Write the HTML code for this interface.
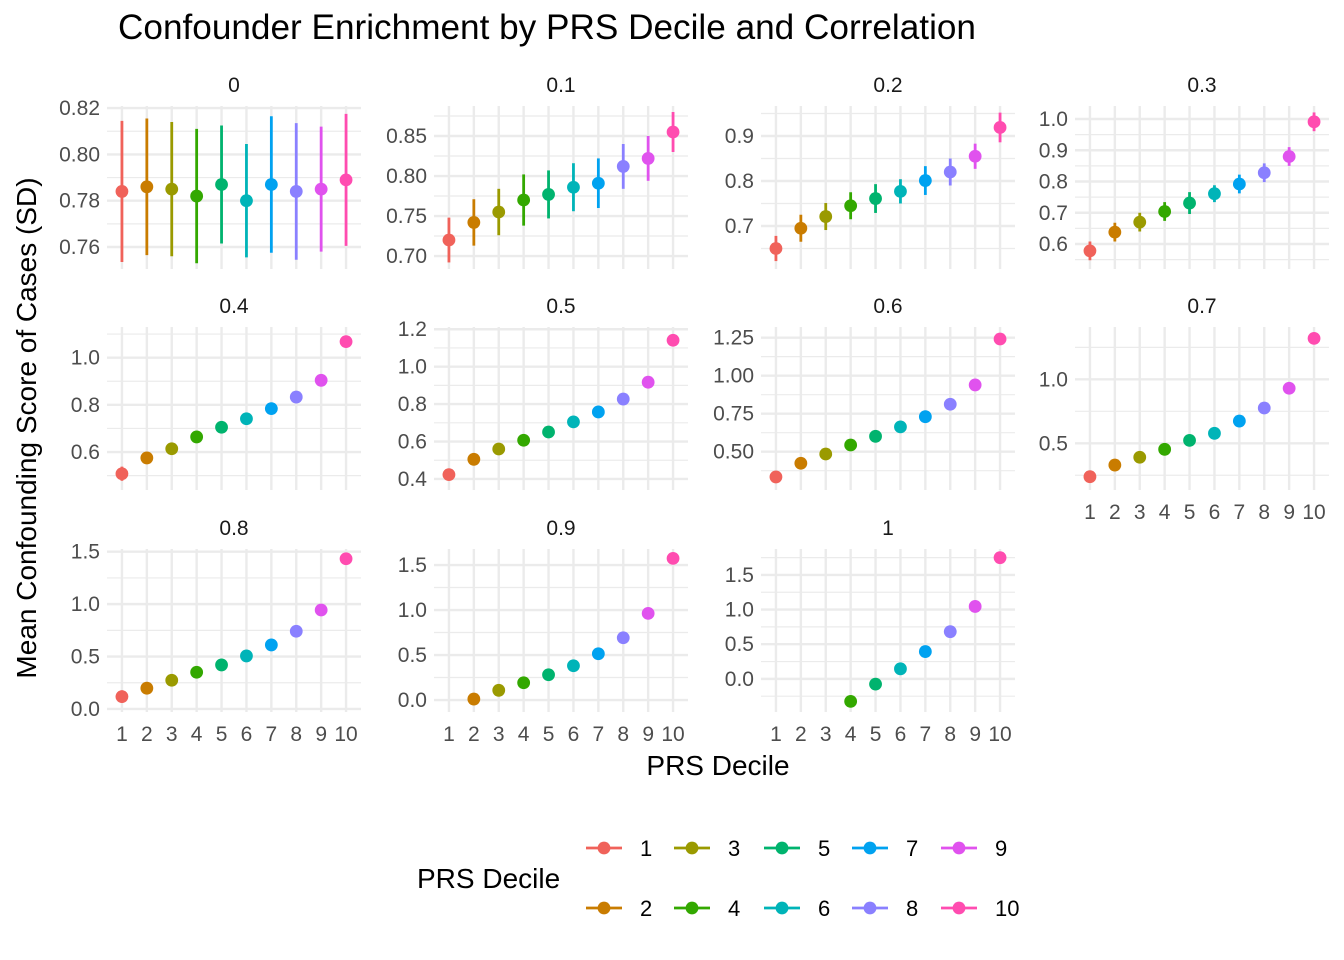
<!DOCTYPE html>
<html><head><meta charset="utf-8"><style>
html,body{margin:0;padding:0;background:#fff;}
svg{display:block;font-family:"Liberation Sans",Arial,sans-serif;}
</style></head><body>
<svg id="chart" width="1344" height="960" viewBox="0 0 1344 960">
<text x="118" y="39" font-size="35" fill="#000" textLength="858" lengthAdjust="spacingAndGlyphs">Confounder Enrichment by PRS Decile and Correlation</text>
<text x="718" y="775" font-size="28" fill="#000" text-anchor="middle">PRS Decile</text>
<text transform="translate(36,428) rotate(-90)" font-size="28" fill="#000" text-anchor="middle">Mean Confounding Score of Cases (SD)</text>
<text x="417" y="888" font-size="28" fill="#000">PRS Decile</text>
<g id="panels"></g>
<g id="legend"></g>
</svg>
<script>
const deciles = [1,2,3,4,5,6,7,8,9,10];
const panelLabels = ["0","0.1","0.2","0.3","0.4","0.5","0.6","0.7","0.8","0.9","1"];
const colors = ["#F0625A","#C97C00","#9A9A00","#33A800","#00B36E","#00B4B8","#00A2F0","#8A80FF","#E052EE","#FF4CB0"];
const means0 = [0.784,0.786,0.785,0.782,0.787,0.780,0.787,0.784,0.785,0.789];
const errs0 = [0.0305,0.0295,0.029,0.029,0.0255,0.0245,0.0295,0.0295,0.027,0.0285];
const means1 = [0.720,0.742,0.755,0.770,0.777,0.786,0.791,0.812,0.822,0.855];
const errs1 = [0.028,0.029,0.029,0.032,0.030,0.030,0.031,0.028,0.028,0.025];
const means2 = [0.650,0.695,0.721,0.745,0.761,0.777,0.801,0.820,0.855,0.919];
const errs2 = [0.028,0.030,0.030,0.030,0.032,0.027,0.032,0.030,0.028,0.033];
const means3 = [0.578,0.638,0.670,0.704,0.731,0.761,0.792,0.828,0.880,0.991];
const errs3 = [0.030,0.030,0.030,0.030,0.035,0.027,0.030,0.030,0.030,0.030];
const means4 = [0.508,0.575,0.614,0.664,0.705,0.741,0.784,0.833,0.904,1.068];
const errs4 = [0.030,0.025,0.025,0.022,0.022,0.022,0.022,0.020,0.020,0.025];
const means5 = [0.423,0.505,0.560,0.607,0.651,0.705,0.758,0.827,0.917,1.141];
const errs5 = [0.020,0.017,0.015,0.013,0.012,0.012,0.012,0.012,0.012,0.015];
const means6 = [0.334,0.424,0.485,0.544,0.601,0.663,0.730,0.812,0.939,1.241];
const errs6 = [0.012,0.010,0.010,0.009,0.009,0.009,0.009,0.009,0.010,0.012];
const means7 = [0.239,0.330,0.391,0.453,0.523,0.578,0.674,0.776,0.930,1.320];
const errs7 = [0.012,0.010,0.009,0.008,0.008,0.008,0.008,0.008,0.010,0.012];
const means8 = [0.118,0.198,0.274,0.350,0.420,0.506,0.611,0.741,0.944,1.433];
const errs8 = [0.060,0.015,0.012,0.010,0.010,0.010,0.010,0.010,0.012,0.015];
const means9 = [null,0.011,0.108,0.192,0.281,0.381,0.514,0.692,0.963,1.574];
const errs9 = [0,0.015,0.012,0.010,0.010,0.010,0.010,0.010,0.012,0.015];
const means10 = [null,null,null,-0.325,-0.076,0.145,0.394,0.681,1.045,1.749];
const errs10 = [0,0,0,0.015,0.012,0.012,0.012,0.012,0.015,0.018];
const ticks0 = ["0.76","0.78","0.80","0.82"];
const ticks1 = ["0.70","0.75","0.80","0.85"];
const ticks2 = ["0.7","0.8","0.9"];
const ticks3 = ["0.6","0.7","0.8","0.9","1.0"];
const ticks4 = ["0.6","0.8","1.0"];
const ticks5 = ["0.4","0.6","0.8","1.0","1.2"];
const ticks6 = ["0.50","0.75","1.00","1.25"];
const ticks7 = ["0.5","1.0"];
const ticks8 = ["0.0","0.5","1.0","1.5"];
const ticks9 = ["0.0","0.5","1.0","1.5"];
const ticks10 = ["0.0","0.5","1.0","1.5"];

const allMeans=[means0,means1,means2,means3,means4,means5,means6,means7,means8,means9,means10];
const allErrs=[errs0,errs1,errs2,errs3,errs4,errs5,errs6,errs7,errs8,errs9,errs10];
const allTicks=[ticks0,ticks1,ticks2,ticks3,ticks4,ticks5,ticks6,ticks7,ticks8,ticks9,ticks10];
const domains=[[0.7505,0.8209],[0.6838,0.8875],[0.6044,0.9667],[0.52,1.0416],[0.439,1.130],[0.341,1.212],[0.248,1.320],[0.135,1.409],[-0.029,1.526],[-0.133,1.678],[-0.478,1.874]];
const NS="http://www.w3.org/2000/svg";
function mk(tag,attrs,parent){const e=document.createElementNS(NS,tag);for(const k in attrs)e.setAttribute(k,attrs[k]);parent.appendChild(e);return e;}
const colX=[107,434,761,1075], rowY=[106,327,549], PW=254, PH=163;
const panelsG=document.getElementById('panels');
for(let p=0;p<11;p++){
  const c=p%4, r=Math.floor(p/4);
  const x0=colX[c], y0=rowY[r];
  const [dlo,dhi]=domains[p];
  const ys=v=>y0+PH-(v-dlo)/(dhi-dlo)*PH;
  const step=PW/10.2;
  const xs=d=>x0+(d-0.4)*step;
  const g=mk('g',{},panelsG);
  
  
  const strip=mk('text',{x:x0+PW/2,y:y0-14,'font-size':21,fill:'#1A1A1A','text-anchor':'middle'},g);
  strip.textContent=panelLabels[p];
  
  
  const tv=allTicks[p].map(Number);
  const stp=tv.length>1?tv[1]-tv[0]:0.5;
  for(let v=tv[0]-stp/2;v<dhi;v+=stp){
    if(v<=dlo)continue;
    const l=mk('line',{x1:x0,x2:x0+PW,y1:ys(v),y2:ys(v),stroke:'#EBEBEB','stroke-width':1.2},g);
    
    
  }
  allTicks[p].forEach(t=>{
    const v=Number(t);
    const l=mk('line',{x1:x0,x2:x0+PW,y1:ys(v),y2:ys(v),stroke:'#EBEBEB','stroke-width':2.4},g);
    
    
    const tx=mk('text',{x:x0-7,y:ys(v)+7,'font-size':21,fill:'#4D4D4D','text-anchor':'end'},g);
    tx.textContent=t;
    
    
  });
  deciles.forEach(d=>{
    const l=mk('line',{x1:xs(d),x2:xs(d),y1:y0,y2:y0+PH,stroke:'#EBEBEB','stroke-width':2.4},g);
    
    
  });
  if(p>=7){
    deciles.forEach(d=>{
      const tx=mk('text',{x:xs(d),y:y0+PH+29,'font-size':21,fill:'#4D4D4D','text-anchor':'middle'},g);
      tx.textContent=String(d);
      
      
    });
  }
  const m=allMeans[p], e=allErrs[p];
  deciles.forEach((d,i)=>{
    if(m[i]===null)return;
    const bar=mk('line',{x1:xs(d),x2:xs(d),y1:ys(m[i]-e[i]),y2:ys(m[i]+e[i]),stroke:colors[i],'stroke-width':2.8},g);
    
    
    const pt=mk('circle',{cx:xs(d),cy:ys(m[i]),r:6.4,fill:colors[i]},g);
    
    
  });
}
const legG=document.getElementById('legend');
const legCols=[604,692,782,870,959], legRows=[848,908];
deciles.forEach((d,i)=>{
  const cx=legCols[Math.floor(i/2)], cy=legRows[i%2];
  const g=mk('g',{},legG);
  
  
  mk('line',{x1:cx-18,x2:cx+18,y1:cy,y2:cy,stroke:colors[i],'stroke-width':2.8},g);
  mk('circle',{cx:cx,cy:cy,r:6.4,fill:colors[i]},g);
  const t=mk('text',{x:cx+36,y:cy+8,'font-size':22,fill:'#000'},g);
  t.textContent=String(d);
});
</script>
</body></html>
